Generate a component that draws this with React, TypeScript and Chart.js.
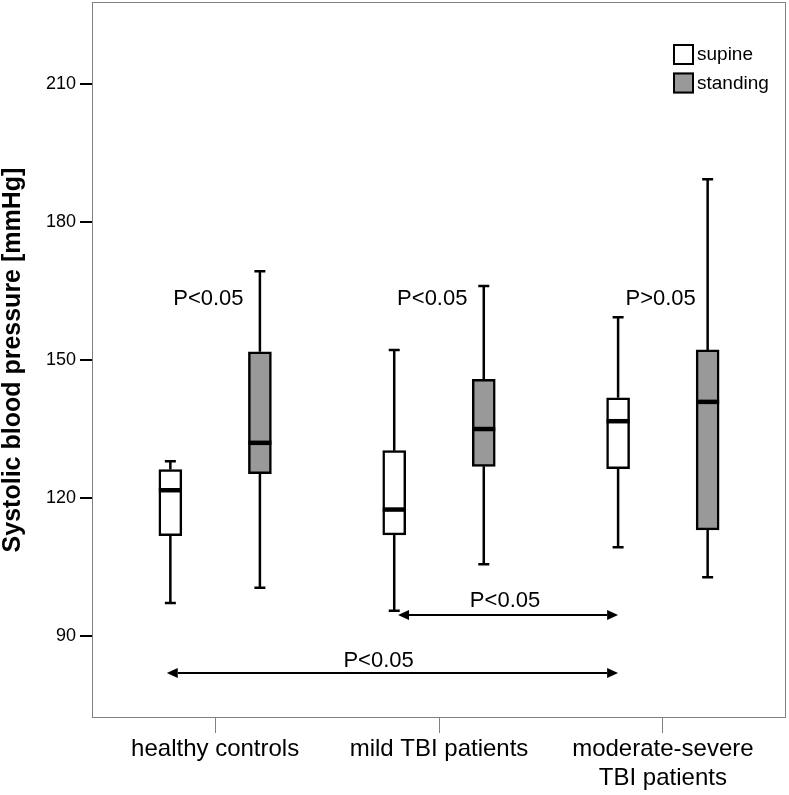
import React, { useEffect, useRef } from 'react';
import { Chart, registerables } from 'chart.js';

Chart.register(...registerables);

// ---- data ----
const categories: string[][] = [['healthy controls'], ['mild TBI patients'], ['moderate-severe', 'TBI patients']];
const seriesNames = ['supine', 'standing'];

const supineMin = [97.2, 95.5, 109.3];
const supineQ1 = [111.8, 112.0, 126.4];
const supineMedian = [121.7, 117.5, 136.7];
const supineQ3 = [126.2, 130.3, 141.8];
const supineMax = [128.0, 152.2, 159.3];

const standingMin = [100.5, 105.6, 102.8];
const standingQ1 = [125.3, 126.9, 113.1];
const standingMedian = [132.0, 135.0, 140.9];
const standingQ3 = [151.8, 145.8, 152.2];
const standingMax = [169.3, 166.1, 189.3];

const yTicks = [90, 120, 150, 180, 210];
const yAxisTitle = 'Systolic blood pressure [mmHg]';

// within-group comparison labels
const groupPLabels = ['P<0.05', 'P<0.05', 'P>0.05'];
const groupPLabelX = [-0.03, 0.97, 1.99];
const groupPLabelY = 163.3;

// between-group comparison arrows
const arrowFrom = [0.817, -0.216];
const arrowTo = [1.8, 1.8];
const arrowY = [94.6, 82.0];
const arrowLabels = ['P<0.05', 'P<0.05'];
const arrowLabelX = [1.295, 0.73];
const arrowLabelY = [97.6, 84.6];

const FONT = "'Liberation Sans', Arial, Helvetica, sans-serif";

const series = [
  { name: seriesNames[0], offset: -0.2, fill: '#ffffff', min: supineMin, q1: supineQ1, med: supineMedian, q3: supineQ3, max: supineMax },
  { name: seriesNames[1], offset: 0.2, fill: '#999999', min: standingMin, q1: standingQ1, med: standingMedian, q3: standingQ3, max: standingMax },
];

const extrasPlugin = {
  id: 'boxExtras',
  beforeDatasetsDraw(chart: any) {
    const { ctx, scales: { x, y } } = chart;
    ctx.save();
    ctx.strokeStyle = '#000';
    ctx.lineWidth = 2.5;
    series.forEach((s) => {
      categories.forEach((_, i) => {
        const cx = x.getPixelForValue(i + s.offset);
        const yMin = y.getPixelForValue(s.min[i]);
        const yMax = y.getPixelForValue(s.max[i]);
        const yQ1 = y.getPixelForValue(s.q1[i]);
        const yQ3 = y.getPixelForValue(s.q3[i]);
        ctx.beginPath();
        ctx.moveTo(cx, yQ3); ctx.lineTo(cx, yMax);
        ctx.moveTo(cx, yQ1); ctx.lineTo(cx, yMin);
        ctx.moveTo(cx - 5.5, yMax); ctx.lineTo(cx + 5.5, yMax);
        ctx.moveTo(cx - 5.5, yMin); ctx.lineTo(cx + 5.5, yMin);
        ctx.stroke();
      });
    });
    ctx.restore();
  },
  afterDatasetsDraw(chart: any) {
    const { ctx, chartArea, scales: { x, y } } = chart;
    ctx.save();
    // medians
    ctx.strokeStyle = '#000';
    ctx.lineWidth = 4.5;
    series.forEach((s) => {
      categories.forEach((_, i) => {
        const cx = x.getPixelForValue(i + s.offset);
        const ym = y.getPixelForValue(s.med[i]);
        ctx.beginPath();
        ctx.moveTo(cx - 11.5, ym); ctx.lineTo(cx + 11.5, ym);
        ctx.stroke();
      });
    });
    // plot border
    ctx.strokeStyle = '#808080';
    ctx.lineWidth = 1;
    ctx.strokeRect(chartArea.left + 0.5, chartArea.top + 0.5, chartArea.right - chartArea.left - 1, chartArea.bottom - chartArea.top - 1);

    // p labels
    ctx.fillStyle = '#000';
    ctx.font = `22px ${FONT}`;
    ctx.textAlign = 'center';
    ctx.textBaseline = 'middle';
    groupPLabels.forEach((t, i) => {
      ctx.fillText(t, x.getPixelForValue(groupPLabelX[i]), y.getPixelForValue(groupPLabelY));
    });
    arrowLabels.forEach((t, i) => {
      ctx.fillText(t, x.getPixelForValue(arrowLabelX[i]), y.getPixelForValue(arrowLabelY[i]));
    });

    // arrows
    ctx.lineWidth = 2;
    ctx.strokeStyle = '#000';
    arrowY.forEach((v, i) => {
      const yy = y.getPixelForValue(v);
      const x1 = x.getPixelForValue(arrowFrom[i]);
      const x2 = x.getPixelForValue(arrowTo[i]);
      const hl = 11, hw = 5;
      ctx.beginPath();
      ctx.moveTo(x1 + hl, yy); ctx.lineTo(x2 - hl, yy);
      ctx.stroke();
      ctx.beginPath();
      ctx.moveTo(x1, yy); ctx.lineTo(x1 + hl, yy - hw); ctx.lineTo(x1 + hl, yy + hw); ctx.closePath();
      ctx.fill();
      ctx.beginPath();
      ctx.moveTo(x2, yy); ctx.lineTo(x2 - hl, yy - hw); ctx.lineTo(x2 - hl, yy + hw); ctx.closePath();
      ctx.fill();
    });

    // legend
    const lx = chartArea.right - 113;
    const ly = chartArea.top + 42;
    ctx.font = `19px ${FONT}`;
    ctx.textAlign = 'left';
    ctx.textBaseline = 'middle';
    series.forEach((s, i) => {
      const top = ly + i * 28.5;
      ctx.fillStyle = s.fill;
      ctx.fillRect(lx, top, 21, 21);
      ctx.strokeStyle = '#000';
      ctx.lineWidth = 2;
      ctx.strokeRect(lx + 1, top + 1, 19, 19);
      ctx.fillStyle = '#000';
      ctx.fillText(s.name, lx + 24, top + 11);
    });
    ctx.restore();
  },
};

export default function App() {
  const ref = useRef<HTMLCanvasElement | null>(null);
  useEffect(() => {
    if (!ref.current) return;
    const chart = new Chart(ref.current, {
      type: 'bar',
      data: {
        datasets: series.map((s) => ({
          label: s.name,
          data: categories.map((_, i) => ({ x: i + s.offset, y: [s.q1[i], s.q3[i]] })),
          backgroundColor: s.fill,
          borderColor: '#000',
          borderWidth: 2.5,
          borderSkipped: false,
          barThickness: 23,
          grouped: false,
        })) as any,
      },
      options: {
        animation: false,
        responsive: false,
        maintainAspectRatio: false,
        layout: { padding: { top: 2, right: 3, bottom: 0, left: 0 } },
        plugins: { legend: { display: false }, tooltip: { enabled: false } },
        scales: {
          x: {
            type: 'linear',
            min: -0.55,
            max: 2.55,
            offset: false,
            afterBuildTicks: (scale: any) => { scale.ticks = categories.map((_, i) => ({ value: i })); },
            afterFit: (scale: any) => { scale.height = 77; scale.paddingLeft = 0; scale.paddingRight = 0; },
            ticks: {
              callback: (v: any) => categories[Math.round(Number(v))],
              color: '#000',
              font: { family: FONT, size: 24, lineHeight: 1.2 },
              padding: 2,
              maxRotation: 0,
              autoSkip: false,
            },
            grid: { offset: false, drawOnChartArea: false, drawTicks: true, tickLength: 15, color: '#808080', lineWidth: 1 },
            border: { display: false },
          },
          y: {
            type: 'linear',
            min: 72.2,
            max: 227.8,
            afterBuildTicks: (scale: any) => { scale.ticks = yTicks.map((v) => ({ value: v })); },
            afterFit: (scale: any) => { scale.width = 92; scale.paddingTop = 0; scale.paddingBottom = 0; },
            ticks: {
              color: '#000',
              font: { family: FONT, size: 18 },
              padding: 4,
            },
            grid: { drawOnChartArea: false, drawTicks: true, tickLength: 12, color: '#000', lineWidth: 2 },
            border: { display: false },
            title: {
              display: true,
              text: yAxisTitle,
              color: '#000',
              font: { family: FONT, size: 25, weight: 'bold', lineHeight: 1.05 },
              padding: { top: 0, bottom: 0 },
            },
          },
        },
      },
      plugins: [extrasPlugin],
    });
    return () => chart.destroy();
  }, []);
  return (
    <div style={{ position: 'fixed', left: 0, top: 0, width: 789, height: 795, background: '#fff' }}>
      <canvas ref={ref} width={789} height={795} style={{ display: 'block' }} />
    </div>
  );
}
